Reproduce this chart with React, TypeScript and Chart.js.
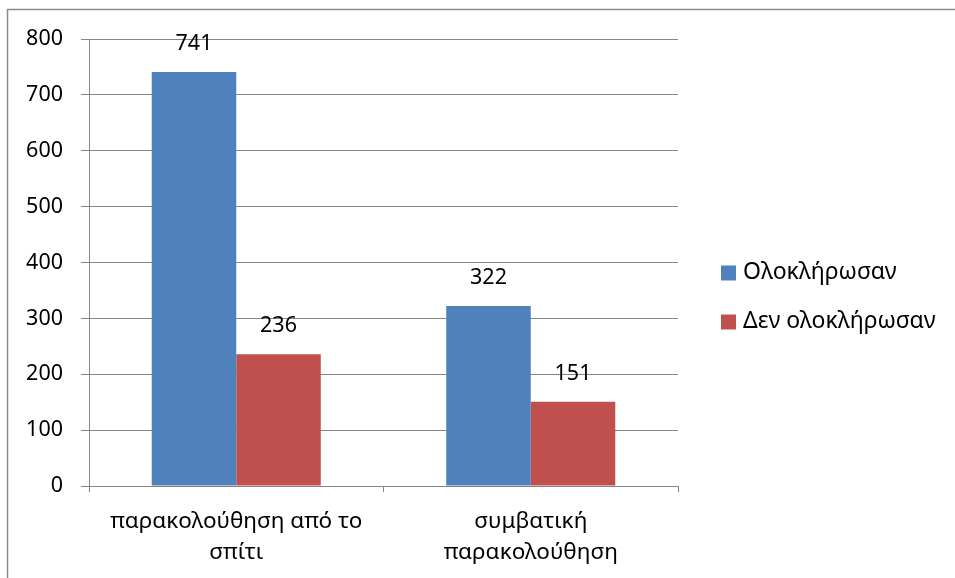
import React, { useEffect, useRef } from "react";
import { Chart, registerables } from "chart.js";

Chart.register(...registerables);

const categories: (string | string[])[] = [
  ["παρακολούθηση από το", "σπίτι"],
  ["συμβατική", "παρακολούθηση"],
];
const seriesNames = ["Ολοκλήρωσαν", "Δεν ολοκλήρωσαν"];
const completed = [741, 322];
const notCompleted = [236, 151];
const seriesColors = ["#4F81BD", "#C0504D"];
const yTicks = [0, 100, 200, 300, 400, 500, 600, 700, 800];

const FONT = "'Noto Sans', 'DejaVu Sans', sans-serif";
const GRID = "#868686";

// Value labels above each bar
const valueLabels = {
  id: "valueLabels",
  afterDatasetsDraw(chart: any) {
    const ctx = chart.ctx;
    ctx.save();
    ctx.fillStyle = "#000";
    ctx.font = `21.5px ${FONT}`;
    ctx.textAlign = "center";
    ctx.textBaseline = "middle";
    chart.data.datasets.forEach((ds: any, i: number) => {
      const meta = chart.getDatasetMeta(i);
      meta.data.forEach((el: any, j: number) => {
        ctx.fillText(String(ds.data[j]), el.x, el.y - 28);
      });
    });
    ctx.restore();
  },
};

// Legend on the right, square swatches with labels
const sideLegend = {
  id: "sideLegend",
  afterDraw(chart: any) {
    const ctx = chart.ctx;
    ctx.save();
    ctx.font = `23px ${FONT}`;
    ctx.textBaseline = "middle";
    ctx.textAlign = "left";
    chart.data.datasets.forEach((ds: any, i: number) => {
      const cy = 273 + i * 49;
      ctx.fillStyle = ds.backgroundColor;
      ctx.fillRect(721, cy - 7.5, 15, 15);
      ctx.fillStyle = "#000";
      ctx.fillText(ds.label, 743, cy - 1);
    });
    ctx.restore();
  },
};

// Outer frame of the chart
const frame = {
  id: "frame",
  beforeDraw(chart: any) {
    const ctx = chart.ctx;
    ctx.save();
    ctx.fillStyle = "#fff";
    ctx.fillRect(0, 0, chart.width, chart.height);
    ctx.strokeStyle = "#8c8c8c";
    ctx.lineWidth = 1.5;
    ctx.strokeRect(7.5, 9.5, 980, 600);
    ctx.restore();
  },
};

export default function App() {
  const ref = useRef<HTMLCanvasElement | null>(null);

  useEffect(() => {
    if (!ref.current) return;
    const chart = new Chart(ref.current, {
      type: "bar",
      data: {
        labels: categories,
        datasets: [
          { label: seriesNames[0], data: completed, backgroundColor: seriesColors[0], borderWidth: 0 },
          { label: seriesNames[1], data: notCompleted, backgroundColor: seriesColors[1], borderWidth: 0 },
        ],
      },
      options: {
        animation: false,
        responsive: false,
        devicePixelRatio: 1,
        layout: { padding: { left: 0, top: 39, right: 277, bottom: 0 } },
        datasets: { bar: { categoryPercentage: 0.574, barPercentage: 1 } },
        plugins: { legend: { display: false }, tooltip: { enabled: false } },
        scales: {
          x: {
            offset: true,
            grid: { offset: true, drawOnChartArea: false, color: GRID, tickLength: 6 },
            border: { color: GRID },
            ticks: { color: "#000", font: { family: FONT, size: 22.5, lineHeight: 1.38 }, padding: 14, maxRotation: 0 },
            afterFit: (s: any) => { s.height = 92; },
          },
          y: {
            min: 0,
            max: 800,
            afterBuildTicks: (s: any) => { s.ticks = yTicks.map((v) => ({ value: v })); },
            grid: { color: GRID, tickLength: 8 },
            border: { color: GRID },
            ticks: { color: "#000", font: { family: FONT, size: 21.5 }, padding: 18 },
            afterFit: (s: any) => { s.width = 89; },
          },
        },
      },
      plugins: [frame, valueLabels, sideLegend],
    });
    return () => chart.destroy();
  }, []);

  return (
    <div style={{ position: "absolute", left: 0, top: 0, width: 955, height: 578 }}>
      <canvas ref={ref} width={955} height={578} />
    </div>
  );
}
